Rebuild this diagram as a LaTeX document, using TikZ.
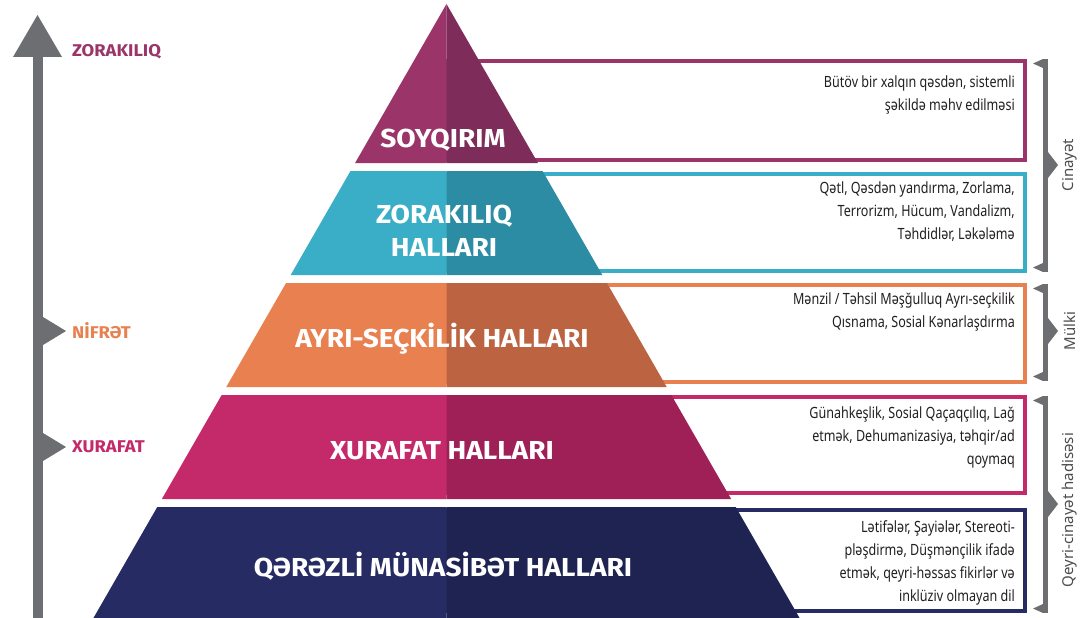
\documentclass[tikz,border=0pt]{standalone}
\usepackage{fontspec}
\setmainfont{Noto Sans}
\newfontfamily\descfont[FakeStretch=0.81]{Noto Sans}
\newfontfamily\lblfont[FakeStretch=1.08]{Fira Sans}
\definecolor{soyL}{RGB}{155,53,105}
\definecolor{soyR}{RGB}{126,44,90}
\definecolor{zorL}{RGB}{58,174,198}
\definecolor{zorR}{RGB}{44,140,163}
\definecolor{ayrL}{RGB}{232,128,79}
\definecolor{ayrR}{RGB}{188,100,66}
\definecolor{xurL}{RGB}{196,42,106}
\definecolor{xurR}{RGB}{158,32,87}
\definecolor{qerL}{RGB}{38,43,99}
\definecolor{qerR}{RGB}{31,35,82}
\definecolor{axisgray}{RGB}{109,110,113}
\definecolor{desctext}{RGB}{35,31,32}
\definecolor{sidetext}{RGB}{77,77,79}
\tikzset{
  lvl/.style={font=\lblfont\bfseries\fontsize{26}{33}\selectfont, text=white, align=center, inner sep=0pt},
  desc/.style={font=\descfont\fontsize{15.5}{23}\selectfont, text=desctext, align=right, anchor=north east, inner sep=0pt},
  axlabel/.style={font=\lblfont\bfseries\fontsize{17}{18}\selectfont, anchor=west, inner sep=0pt},
  sidelabel/.style={font=\fontsize{15}{18}\selectfont, text=sidetext, rotate=90, inner sep=0pt}
}

\begin{document}
\begin{tikzpicture}[x=1pt, y=-1pt]
\useasboundingbox[fill=white] (0,0) rectangle (1081,618);
% boxes behind the pyramid
\foreach \t/\b/\c in {61/160/soyL, 173.5/270.5/zorL, 285/382/ayrL, 397/493/xurL, 510/611/qerL}
{
	\draw[\c, line width=4pt, fill=white] (446.5,\t) rectangle (1025,\b);
}
% pyramid
\foreach \t/\b/\cl/\cr in {4/163/soyL/soyR, 171/275/zorL/zorR, 283/387/ayrL/ayrR, 395/499/xurL/xurR, 507/618/qerL/qerR}
{
	\pgfmathsetmacro\wt{0.575*(\t-4)}
	\pgfmathsetmacro\wb{0.575*(\b-4)}
	\fill[\cl] (446.5-\wt,\t) -- (446.5,\t) -- (446.5,\b) -- (446.5-\wb,\b) -- cycle;
	\fill[\cr] (446.5,\t) -- (446.5+\wt,\t) -- (446.5+\wb,\b) -- (446.5,\b) -- cycle;
}
\node[lvl] (soy) at (443,140) {SOYQIRIM};
\node[lvl] (zor) at (444,231) {ZORAKILIQ\\HALLARI};
\node[lvl] (ayr) at (442,339) {AYRI-SEÇKİLİK HALLARI};
\node[lvl] (xur) at (442,451) {XURAFAT HALLARI};
\node[lvl] (qer) at (443,566) {QƏRƏZLİ MÜNASİBƏT HALLARI};
% descriptions
\node[desc] (soyd) at (1015,76) {Bütöv bir xalqın qəsdən, sistemli\\şəkildə məhv edilməsi};
\node[desc] (zord) at (1015,182) {Qətl, Qəsdən yandırma, Zorlama,\\Terrorizm, Hücum, Vandalizm,\\Təhdidlər, Ləkələmə};
\node[desc] (ayrd) at (1015,293) {Mənzil / Təhsil Məşğulluq Ayrı-seçkilik\\Qısnama, Sosial Kənarlaşdırma};
\node[desc] (xurd) at (1015,407) {Günahkeşlik, Sosial Qaçaqçılıq, Lağ\\etmək, Dehumanizasiya, təhqir/ad\\qoymaq};
\node[desc] (qerd) at (1015,520) {Lətifələr, Şayiələr, Stereoti-\\pləşdirmə, Düşmənçilik ifadə\\etmək, qeyri-həssas fikirlər və\\inklüziv olmayan dil};
% left axis
\fill[axisgray] (33,57) rectangle (43,618);
\fill[axisgray] (13,57) -- (37.5,15) -- (62,57) -- cycle;
\foreach \y in {331,447}
{
	\fill[axisgray] (43,\y-14) -- (66,\y) -- (43,\y+14) -- cycle;
}
\node[axlabel, text=soyL] (zorakiliq) at (72,52) {ZORAKILIQ};
\node[axlabel, text=ayrL] (nifret) at (72,331) {NİFRƏT};
\node[axlabel, text=xurL] (xurafat) at (72,447) {XURAFAT};
% right brackets
\foreach \t/\b/\m in {59/272/165, 284/381/331, 396/613/504}
{
	\fill[axisgray] (1043,\t) rectangle (1048,\b);
	\fill[axisgray] (1043,\t) -- (1033,\t+4.5) -- (1043,\t+9) -- cycle;
	\fill[axisgray] (1043,\b) -- (1033,\b-4.5) -- (1043,\b-9) -- cycle;
	\fill[axisgray] (1048,\m-13) -- (1058,\m) -- (1048,\m+13) -- cycle;
}
\node[sidelabel] (cinayet) at (1070,165) {Cinayət};
\node[sidelabel] (mulki) at (1070,331) {Mülki};
\node[sidelabel] (qeyri) at (1070,510) {Qeyri-cinayət hadisəsi};
\end{tikzpicture}
\end{document}
